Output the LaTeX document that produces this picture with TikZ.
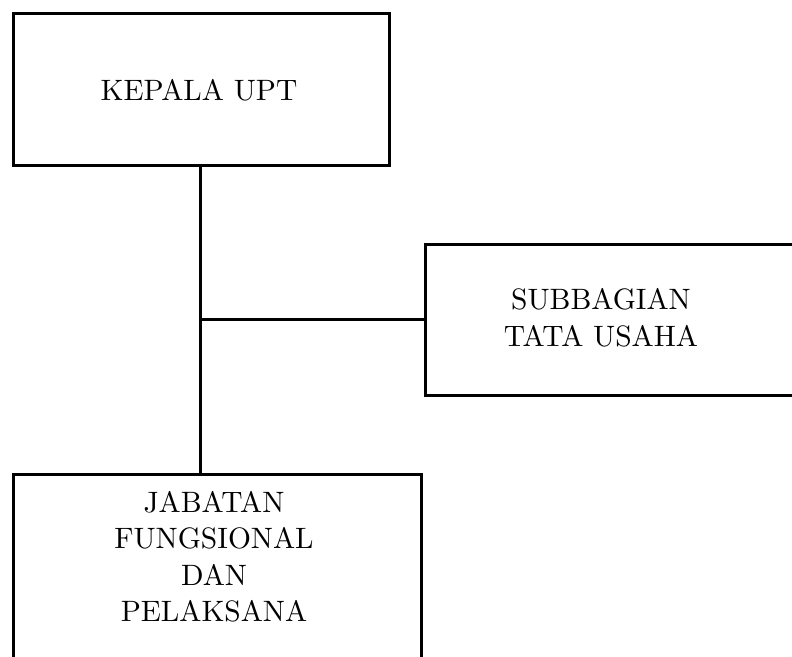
\documentclass[tikz,border=0pt]{standalone}
\usepackage{fontspec}
\setmainfont{lmroman10-regular}[Extension=.otf]
\begin{document}
\begin{tikzpicture}[x=1pt,y=-1pt,
  box/.style={draw=black, line width=3pt, rectangle, inner sep=0pt, anchor=north west},
  lbl/.style={align=center, font=\fontsize{29.5}{36.5}\selectfont, inner sep=0pt},
  conn/.style={draw=black, line width=3pt}]
\useasboundingbox (0,0) rectangle (792,656);
\node[box, minimum width=376pt, minimum height=152pt] (kepala) at (12,12) {};
\node[lbl] (kepalatext) at (199,90) {KEPALA UPT};
\node[box, minimum width=400pt, minimum height=151pt] (sub) at (424,243) {};
\node[lbl] (subtext) at (601,318) {SUBBAGIAN\\TATA USAHA};
\node[box, minimum width=408pt, minimum height=220pt] (jab) at (12,473) {};
\node[lbl] (jabtext) at (214,557) {JABATAN\\FUNGSIONAL\\DAN\\PELAKSANA};
\coordinate (v) at (200,319);
\draw[conn] (kepala.south -| v) -- (jab.north -| v);
\draw[conn] (v) -- (sub.west |- v);
\end{tikzpicture}
\end{document}
